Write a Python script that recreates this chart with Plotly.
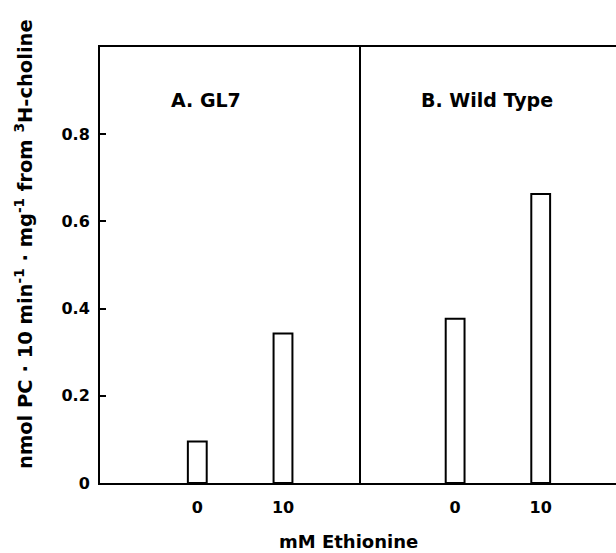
import plotly.graph_objects as go

# Data
conc = [0, 10]
conc_labels = ["0", "10"]
gl7_values = [0.095, 0.343]
wild_values = [0.377, 0.663]
y_tick_vals = [0, 0.2, 0.4, 0.6, 0.8]
y_tick_text = ["0", "0.2", "0.4", "0.6", "0.8"]
panel_titles = ["A. GL7", "B. Wild Type"]

FONT = "DejaVu Sans"
WEIGHT = "bold"
W, H = 616, 553
L, R, T, B = 100, 0, 47, 70
PW, PH = W - L - R, H - T - B


def px(x):
    return (x - L) / PW


def py(y):
    return (H - B - y) / PH


bar_style = dict(color="white", line=dict(color="black", width=2))

fig = go.Figure()
fig.add_trace(go.Bar(x=conc, y=gl7_values, xaxis="x", yaxis="y", width=2.2,
                     marker=bar_style, showlegend=False))
fig.add_trace(go.Bar(x=conc, y=wild_values, xaxis="x2", yaxis="y2", width=2.2,
                     marker=bar_style, showlegend=False))

split = px(361)
xcommon = dict(tickvals=conc, ticktext=conc_labels, ticks="",
               showline=True, linecolor="black", linewidth=2, mirror=True,
               showgrid=False, zeroline=False, ticklabelstandoff=9,
               tickfont=dict(family=FONT, size=16, color="black", weight=WEIGHT))
fig.update_layout(
    width=W, height=H,
    margin=dict(l=L, r=R, t=T, b=B),
    plot_bgcolor="white", paper_bgcolor="white",
    xaxis=dict(domain=[0, split], anchor="y", range=[-11.35, 19.1], **xcommon),
    xaxis2=dict(domain=[split, 1.0], anchor="y2", range=[-11.0, 18.8], **xcommon),
    yaxis=dict(range=[0, 1.0], tickvals=y_tick_vals, ticktext=y_tick_text,
               ticks="inside", ticklen=6, tickwidth=2, tickcolor="black",
               showline=True, linecolor="black", linewidth=2,
               showgrid=False, zeroline=False, anchor="x", ticklabelstandoff=5,
               tickfont=dict(family=FONT, size=16, color="black", weight=WEIGHT)),
    yaxis2=dict(range=[0, 1.0], showticklabels=False, ticks="",
                showline=True, linecolor="black", linewidth=2,
                showgrid=False, zeroline=False, anchor="x2", matches="y"),
)

ann_common = dict(xref="paper", yref="paper", showarrow=False,
                  xanchor="center", yanchor="middle")
annotations = [
    dict(text=panel_titles[0], x=px(206), y=py(100),
         font=dict(family=FONT, size=19, color="black", weight=WEIGHT), **ann_common),
    dict(text=panel_titles[1], x=px(487), y=py(100),
         font=dict(family=FONT, size=19, color="black", weight=WEIGHT), **ann_common),
    dict(text="mM Ethionine", x=px(348), y=py(541),
         font=dict(family=FONT, size=18, color="black", weight=WEIGHT), **ann_common),
    dict(text="nmol PC · 10 min<sup>-1</sup> · mg<sup>-1</sup> from <sup>3</sup>H-choline",
         x=px(24), y=py(244), textangle=-90,
         font=dict(family=FONT, size=19.5, color="black", weight=WEIGHT), **ann_common),
]
fig.update_layout(annotations=annotations)

fig.write_html("out.html", config={"displayModeBar": False},
               post_script="document.body.style.margin='0';document.body.style.overflow='hidden';")
